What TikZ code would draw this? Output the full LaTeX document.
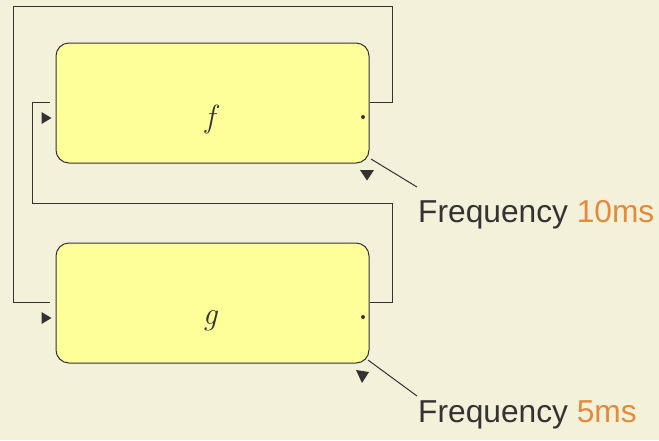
\documentclass[tikz,border=0pt]{standalone}
\usepackage{fontspec}
\setmainfont{Liberation Sans}
\newfontfamily\lmroman{Latin Modern Roman}
\usetikzlibrary{calc}
\definecolor{bg}{HTML}{F3F1DA}
\definecolor{boxfill}{HTML}{FFFF99}
\definecolor{ink}{HTML}{333333}
\definecolor{accent}{HTML}{E38B3D}
\tikzset{
  block/.style={draw=ink, line width=1pt, fill=boxfill, rounded corners=13pt,
    minimum width=313pt, minimum height=120pt, inner sep=0pt},
  wire/.style={draw=ink, line width=1pt},
  leader/.style={draw=ink, line width=1pt},
  tri/.style={fill=ink, draw=none},
  freq/.style={anchor=base west, inner sep=0pt, font=\fontsize{31.7}{32}\selectfont, text=ink},
  fun/.style={anchor=base, inner sep=0pt, font=\lmroman\itshape\fontsize{32}{32}\selectfont, text=ink}
}
\begin{document}
\begin{tikzpicture}[x=1pt,y=-1pt]
  \fill[bg] (0,0) rectangle (659,440);
  \useasboundingbox (0,0) rectangle (659,440);

  % the two blocks
  \node[block] (f) at (212.5,103) {};
  \node[block] (g) at (212.5,303) {};
  \node[fun] (flabel) at (210,127) {f};
  \node[fun] (glabel) at (210,324) {g};

  % output ports (dots) and input markers
  \fill[ink] (363,117) circle (2pt);
  \fill[ink] (363,317) circle (2pt);
  \coordinate (fin) at (f.west |- 0,118);
  \coordinate (gin) at (g.west |- 0,318);
  \fill[tri] ($(fin)+(-4,0)$) -- ++(-10,-6) -- ++(0,12) -- cycle;
  \fill[tri] ($(gin)+(-4,0)$) -- ++(-10,-6) -- ++(0,12) -- cycle;

  % f output fed to g input
  \coordinate (fout) at (f.east |- 0,102);
  \coordinate (gend) at (50,302);
  \draw[wire] (fout) -- (392,102) -- (392,6) -- (13,6) -- (13,302) -- (gend);

  % g output fed back to f input
  \coordinate (gout) at (g.east |- 0,302);
  \coordinate (fend) at (50,102);
  \draw[wire] (gout) -- (392,302) -- (392,203) -- (32,203) -- (32,102) -- (fend);

  % clock markers
  \fill[tri] (360,170) -- (374,170) -- (367,180.5) -- cycle;
  \fill[tri] (356,370) -- (369,372) -- (362,383) -- cycle;

  % frequency annotations
  \node[freq] (ft) at (418,222) {Frequency \textcolor{accent}{10ms}};
  \node[freq] (gt) at (418,422) {Frequency \textcolor{accent}{5ms}};
  \coordinate (fl) at (417,187);
  \coordinate (gl) at (417,396);
  \draw[leader] (371,159) -- (fl);
  \draw[leader] (368,360) -- (gl);
\end{tikzpicture}
\end{document}
